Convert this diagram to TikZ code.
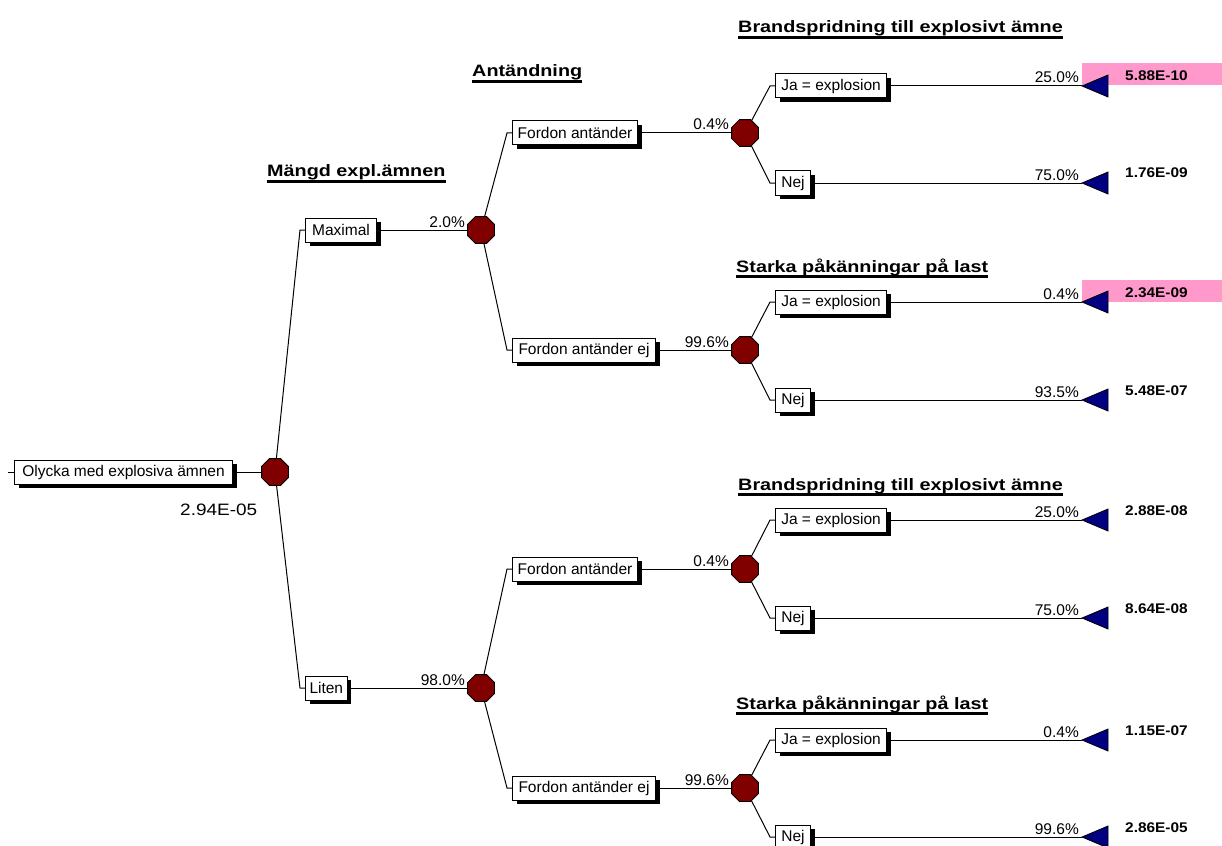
\documentclass[tikz,border=0pt]{standalone}
\usepackage{fontspec}
\setmainfont{Liberation Sans}
\newfontfamily\hdrfont[FakeStretch=1.2]{Liberation Sans}
\newfontfamily\valfont[FakeStretch=1.1]{Liberation Sans}
\newfontfamily\rootvalfont[FakeStretch=1.15]{Liberation Sans}
\usetikzlibrary{shapes.geometric,shadows,backgrounds}
\definecolor{chancered}{HTML}{800000}
\definecolor{leafblue}{HTML}{000080}
\definecolor{hilite}{HTML}{FF99CC}
\tikzset{
  evbox/.style={draw=black, line width=1pt, fill=white, minimum width=#1,
    minimum height=24pt, inner xsep=4pt, inner ysep=0pt, anchor=west,
    font=\fontsize{15.5}{18}\selectfont,
    drop shadow={shadow xshift=4pt, shadow yshift=-4pt, fill=black, opacity=1}},
  chance/.style={regular polygon, regular polygon sides=8, minimum size=29pt,
    inner sep=0pt, fill=chancered, draw=black, line width=0.8pt},
  pct/.style={anchor=base east, inner sep=0pt, font=\fontsize{15.5}{18}\selectfont},
  val/.style={anchor=base west, inner sep=0pt, font=\valfont\bfseries\fontsize{14}{16}\selectfont},
  hdr/.style={anchor=base west, inner sep=0pt, font=\hdrfont\bfseries\fontsize{16.5}{19}\selectfont},
  uline/.style={line width=2.5pt},
  branch/.style={line width=1pt, draw=black},
  leaf/.style={fill=leafblue, draw=black, line width=0.8pt},
  pink/.style={fill=hilite, draw=none},
}
\begin{document}
\begin{tikzpicture}[x=1pt,y=-1pt]
\useasboundingbox (0,0) rectangle (1222,845);

% column headers
\node[hdr] (h1) at (267,177) {Mängd expl.ämnen};
\node[hdr] (h2) at (472,77) {Antändning};
\node[hdr] (h3) at (738,33) {Brandspridning till explosivt ämne};
\node[hdr] (h4) at (736,272) {Starka påkänningar på last};
\node[hdr] (h5) at (738,490) {Brandspridning till explosivt ämne};
\node[hdr] (h6) at (736,709) {Starka påkänningar på last};
\foreach \h in {h1,h2,h3,h4,h5,h6}
  \draw[uline] ([yshift=-4.5pt]\h.base west) -- ([yshift=-4.5pt]\h.base east);

% root event
\coordinate (rootin) at (8,472);
\node[evbox=218] (root) at (14,472) {Olycka med explosiva ämnen};
\node[chance] (c0) at (275,472) {};
\node[anchor=base west, inner sep=0pt, font=\rootvalfont\fontsize{16.5}{19}\selectfont] (rootval) at (180,515) {2.94E-05};

% amount of explosives
\coordinate (k1) at (300,230);
\node[evbox=71] (max) at (305,230) {Maximal};
\node[chance] (c1) at (481,230) {};
\node[pct] (p1) at (465,227) {2.0\%};

\coordinate (k2) at (300,688);
\node[evbox=41] (lit) at (305,688) {Liten};
\node[chance] (c2) at (481,688) {};
\node[pct] (p2) at (465,685) {98.0\%};

% ignition
\coordinate (ka) at (507,133);
\node[evbox=125] (fa) at (512,133) {Fordon antänder};
\node[chance] (ca) at (745,133) {};
\node[pct] (pa) at (729,130) {0.4\%};

\coordinate (kb) at (507,350);
\node[evbox=143] (fb) at (512,350) {Fordon antänder ej};
\node[chance] (cb) at (745,350) {};
\node[pct] (pb) at (729,347) {99.6\%};

\coordinate (kc) at (507,569);
\node[evbox=125] (fc) at (512,569) {Fordon antänder};
\node[chance] (cc) at (745,569) {};
\node[pct] (pc) at (729,566) {0.4\%};

\coordinate (kd) at (507,788);
\node[evbox=143] (fd) at (512,788) {Fordon antänder ej};
\node[chance] (cd) at (745,788) {};
\node[pct] (pd) at (729,785) {99.6\%};

% highlighted outcomes
\begin{pgfonlayer}{background}
  \fill[pink] (1082,63) rectangle (1222,85);
  \fill[pink] (1082,280) rectangle (1222,302);
\end{pgfonlayer}

% connectors of the first levels
\begin{pgfonlayer}{background}
  \draw[branch] (rootin) -- (root.west);
  \draw[branch] (root.east) -- (c0.center);
  \draw[branch] (c0.center) -- (k1) -- (max.west);
  \draw[branch] (c0.center) -- (k2) -- (lit.west);
  \draw[branch] (max.east) -- (c1.center);
  \draw[branch] (lit.east) -- (c2.center);
  \draw[branch] (c1.center) -- (ka) -- (fa.west);
  \draw[branch] (c1.center) -- (kb) -- (fb.west);
  \draw[branch] (c2.center) -- (kc) -- (fc.west);
  \draw[branch] (c2.center) -- (kd) -- (fd.west);
  \draw[branch] (fa.east) -- (ca.center);
  \draw[branch] (fb.east) -- (cb.center);
  \draw[branch] (fc.east) -- (cc.center);
  \draw[branch] (fd.east) -- (cd.center);
\end{pgfonlayer}

% terminal branches
\foreach \n/\y/\lab/\w/\pc/\v/\src in {
  1/86/Ja = explosion/111/25.0\%/5.88E-10/ca,
  2/183/Nej/35/75.0\%/1.76E-09/ca,
  3/302/Ja = explosion/111/0.4\%/2.34E-09/cb,
  4/400/Nej/35/93.5\%/5.48E-07/cb,
  5/520/Ja = explosion/111/25.0\%/2.88E-08/cc,
  6/618/Nej/35/75.0\%/8.64E-08/cc,
  7/740/Ja = explosion/111/0.4\%/1.15E-07/cd,
  8/837/Nej/35/99.6\%/2.86E-05/cd}{
  \coordinate (lk\n) at (770,\y);
  \node[evbox=\w] (lb\n) at (775,\y) {\lab};
  \coordinate (tip\n) at (1082,\y);
  \draw[leaf] (tip\n) -- ++(26,-11) -- ++(0,22) -- cycle;
  \node[pct] (lp\n) at (1079,\y-3) {\pc};
  \node[val] (lv\n) at (1125,\y-5) {\v};
  \begin{pgfonlayer}{background}
    \draw[branch] (\src.center) -- (lk\n) -- (lb\n.west);
    \draw[branch] (lb\n.east) -- (tip\n);
  \end{pgfonlayer}
}
\end{tikzpicture}
\end{document}
